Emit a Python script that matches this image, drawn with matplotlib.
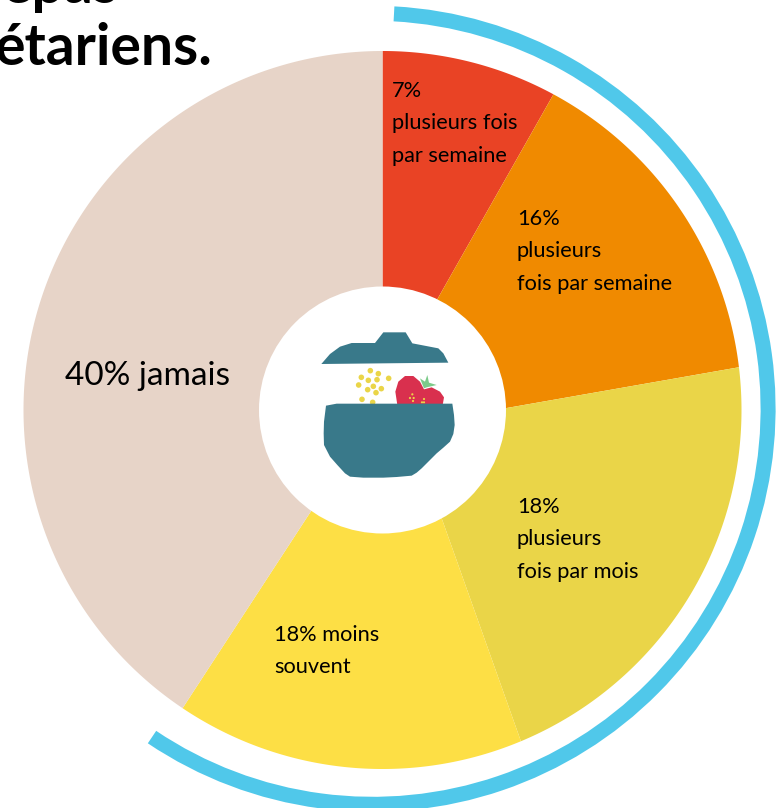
import numpy as np
import matplotlib
matplotlib.use('Agg')
import matplotlib.pyplot as plt
from matplotlib.patches import Wedge, Circle, Polygon

H = 808 # picture height, everything below is in pixels from the top

shares = [7.9, 15.2, 20.6, 15.7, 40.6]
# the spokes do not meet in the centre: same shares read on the inner white circle
inner_shares = [7.3, 17.5, 17.2, 17.8, 40.2]
colors = ['#E94325', '#F08A00', '#EAD548', '#FDDF45', '#E7D4C8']
labels = [['7%', 'plusieurs fois', 'par semaine'],
          ['16%', 'plusieurs', 'fois par semaine'],
          ['18%', 'plusieurs', 'fois par mois'],
          ['18% moins', 'souvent'],
          ['40% jamais']]
label_x = [392, 517, 517, 274, 65]
label_y = [91, 219, 507, 635, 376]
label_size = [15.7, 15.7, 15.7, 15.7, 24]

plt.rcParams['font.family'] = ['Lato', 'DejaVu Sans']

fig = plt.figure(figsize=(7.83, 8.08), dpi=100)
ax = fig.add_axes([0, 0, 1, 1])

cx, cy = 382.5, H - 410
R, r = 359, 123.5

def ring_point(rad, a):
    return cx + rad * np.sin(a), cy + rad * np.cos(a)

out_edges = np.cumsum([0] + shares) / 100 * 2 * np.pi
in_edges = np.cumsum([0] + inner_shares) / 100 * 2 * np.pi
for i in range(len(shares)):
    t = np.linspace(out_edges[i], out_edges[i + 1], 200)
    u = np.linspace(in_edges[i + 1], in_edges[i], 100)
    xo, yo = ring_point(R, t)
    xi, yi = ring_point(r - 2, u)
    ax.fill(np.r_[xo, xi], np.r_[yo, yi], color=colors[i], lw=0, zorder=2)
ax.add_patch(Circle((cx, cy), r, fc='white', ec='none', zorder=3))

# blue arc, its centre is a bit off the pie centre
ax.add_patch(Wedge((372.6, H - 408.8), 403, 90 - 213.9, 90 - 3.1, width=15,
                   fc='#50C8EA', ec='none'))

for i in range(len(labels)):
    for j in range(len(labels[i])):
        ax.text(label_x[i], H - label_y[i] - j * 32.3, labels[i][j], color='black',
                fontsize=label_size[i], va='center', ha='left', zorder=5)

# title, cut by the top and left edge of the picture
ax.text(118, H - 3, 'epas', fontsize=41, fontweight='bold', ha='right',
        va='baseline', zorder=5)
ax.text(212, H - 65, 'étariens.', fontsize=41, fontweight='bold', ha='right',
        va='baseline', zorder=5)

# pot icon, points measured on a 3x crop starting at (250, 280)
def px(p):
    return (250 + p[0] / 3, H - 280 - p[1] / 3)

lid = [(214, 252), (240, 222), (270, 200), (305, 189), (375, 189), (400, 157),
       (467, 157), (487, 190), (565, 205), (580, 220), (595, 248), (400, 250)]
bowl = [(228, 377), (260, 371), (607, 371), (612, 405), (614, 435), (610, 462),
        (600, 485), (580, 503), (560, 520), (535, 545), (515, 565), (500, 578),
        (485, 587), (440, 591), (400, 593), (340, 593), (300, 590), (285, 580),
        (262, 555), (240, 530), (222, 495), (221, 460), (222, 425)]
berry = [(442, 375), (436, 335), (445, 305), (465, 288), (490, 288), (510, 305),
         (522, 328), (545, 322), (570, 335), (582, 352), (578, 375)]
leaf = [(510, 295), (525, 305), (532, 285), (537, 308), (560, 315), (530, 322),
        (522, 325)]
grains = [(361, 272), (385, 281), (334, 292), (416, 295), (355, 301), (381, 299),
          (326, 315), (370, 319), (353, 329), (394, 326), (378, 338), (336, 358),
          (368, 367)]
seeds = [(487, 343), (480, 354), (491, 354), (489, 363), (522, 357), (516, 367),
         (522, 367)]

for g in grains:
    ax.add_patch(Circle(px(g), 2.8, fc='#EAD548', ec='none', zorder=4))
ax.add_patch(Polygon([px(p) for p in leaf], fc='#7CCB8A', ec='none', zorder=4))
ax.add_patch(Polygon([px(p) for p in berry], fc='#D9304E', ec='none', zorder=4))
for s in seeds:
    ax.add_patch(Circle(px(s), 1.1, fc='#EAD548', ec='none', zorder=4))
ax.add_patch(Polygon([px(p) for p in lid], fc='#39798A', ec='none', zorder=4))
ax.add_patch(Polygon([px(p) for p in bowl], fc='#39798A', ec='none', zorder=4))

ax.set_xlim(0, 783)
ax.set_ylim(0, H)
ax.set_aspect('equal')
ax.axis('off')
fig.savefig('out.png', dpi=100)
